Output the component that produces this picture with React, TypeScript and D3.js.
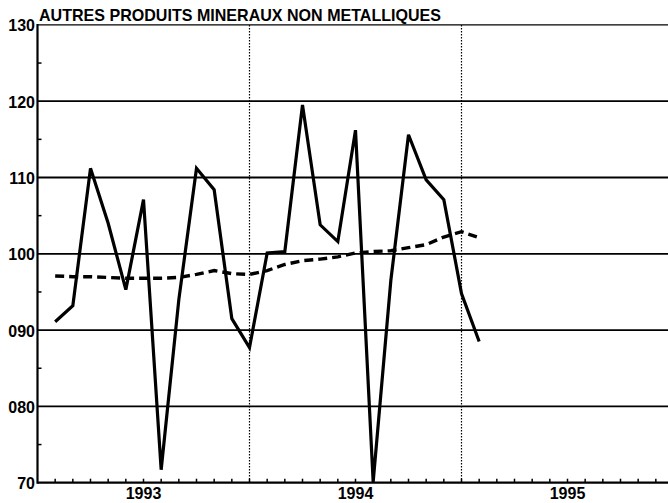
import React, { useLayoutEffect } from "react";
import * as d3 from "d3";

const title = "AUTRES PRODUITS MINERAUX NON METALLIQUES";

// one point per month, plotted at the end of the month
const months = [
  "1993-01", "1993-02", "1993-03", "1993-04", "1993-05", "1993-06",
  "1993-07", "1993-08", "1993-09", "1993-10", "1993-11", "1993-12",
  "1994-01", "1994-02", "1994-03", "1994-04", "1994-05", "1994-06",
  "1994-07", "1994-08", "1994-09", "1994-10", "1994-11", "1994-12",
  "1995-01",
];
const indice = [
  91.1, 93.2, 111.2, 104.0, 95.3, 107.1, 71.7, 94.0, 111.2, 108.4, 91.5, 87.7,
  100.1, 100.3, 119.5, 103.8, 101.6, 116.2, 70.1, 96.5, 115.6, 109.7, 107.1, 94.8,
  88.5,
];
const tendance = [
  97.1, 97.0, 97.0, 96.9, 96.8, 96.8, 96.8, 96.9, 97.3, 97.8, 97.4, 97.3,
  97.8, 98.6, 99.1, 99.3, 99.6, 100.1, 100.3, 100.4, 100.8, 101.2, 102.2, 102.9,
  102.1,
];

const years = ["1993", "1994", "1995"];
const yTicks = [70, 80, 90, 100, 110, 120, 130];
const yTickLabels = ["70", "080", "090", "100", "110", "120", "130"];
const yMinor = [75, 85, 95, 105, 115, 125];

const W = 668;
const H = 503;
const font = "'Liberation Sans', Arial, Helvetica, sans-serif";

const monthIndex = (s: string) => {
  const [y, m] = s.split("-").map(Number);
  return (y - 1993) * 12 + m;
};

export default function App() {
  useLayoutEffect(() => {
    document.body.style.margin = "0";
  }, []);

  const x = d3.scaleLinear().domain([0, 36]).range([37.5, 673.5]);
  const y = d3.scaleLinear().domain([70, 130]).range([482.7, 24.9]);

  const line = d3
    .line<number>()
    .x((_, i) => x(monthIndex(months[i])))
    .y((d) => y(d));

  const x0 = x(0);
  const yBottom = y(70);
  const monthTicks = d3.range(1, 36);

  return (
    <svg width={W} height={H} style={{ display: "block", background: "#fff" }}>
      {/* horizontal grid */}
      {yTicks.slice(1).map((v) => (
        <line key={v} x1={x0} x2={W} y1={y(v)} y2={y(v)} stroke="#000" strokeWidth={v === 130 ? 1.2 : 1.8} />
      ))}
      {/* year separators */}
      {years.slice(1).map((yr, i) => (
        <line
          key={yr}
          x1={x((i + 1) * 12)}
          x2={x((i + 1) * 12)}
          y1={y(130)}
          y2={yBottom}
          stroke="#000"
          strokeWidth={1.2}
          strokeDasharray="1.5,1.5"
        />
      ))}
      {/* minor ticks on y */}
      {yMinor.map((v) => (
        <line key={v} x1={x0} x2={x0 + 4} y1={y(v)} y2={y(v)} stroke="#000" strokeWidth={1.5} />
      ))}
      {/* month ticks */}
      {monthTicks.map((m) => (
        <line key={m} x1={x(m)} x2={x(m)} y1={yBottom} y2={yBottom - 4} stroke="#000" strokeWidth={1.5} />
      ))}
      {/* axes */}
      <line x1={x0} x2={x0} y1={y(130) - 1} y2={yBottom + 1} stroke="#000" strokeWidth={2.2} />
      <line x1={x0} x2={W} y1={yBottom} y2={yBottom} stroke="#000" strokeWidth={2.2} />

      {/* series */}
      <path d={line(tendance) ?? ""} fill="none" stroke="#000" strokeWidth={3.4} strokeDasharray="9,5" />
      <path d={line(indice) ?? ""} fill="none" stroke="#000" strokeWidth={3.2} strokeLinejoin="miter" />

      {/* y labels */}
      {yTicks.map((v, i) => (
        <text
          key={v}
          x={35}
          y={y(v) + 1}
          textAnchor="end"
          dominantBaseline="central"
          fontFamily={font}
          fontWeight="bold"
          fontSize={16}
        >
          {yTickLabels[i]}
        </text>
      ))}
      {/* year labels */}
      {years.map((yr, i) => (
        <text
          key={yr}
          x={x(i * 12 + 6)}
          y={499}
          textAnchor="middle"
          fontFamily={font}
          fontWeight="bold"
          fontSize={16}
        >
          {yr}
        </text>
      ))}
      <text x={39} y={21} fontFamily={font} fontWeight="bold" fontSize={17} textLength={402} lengthAdjust="spacingAndGlyphs">
        {title}
      </text>
    </svg>
  );
}
